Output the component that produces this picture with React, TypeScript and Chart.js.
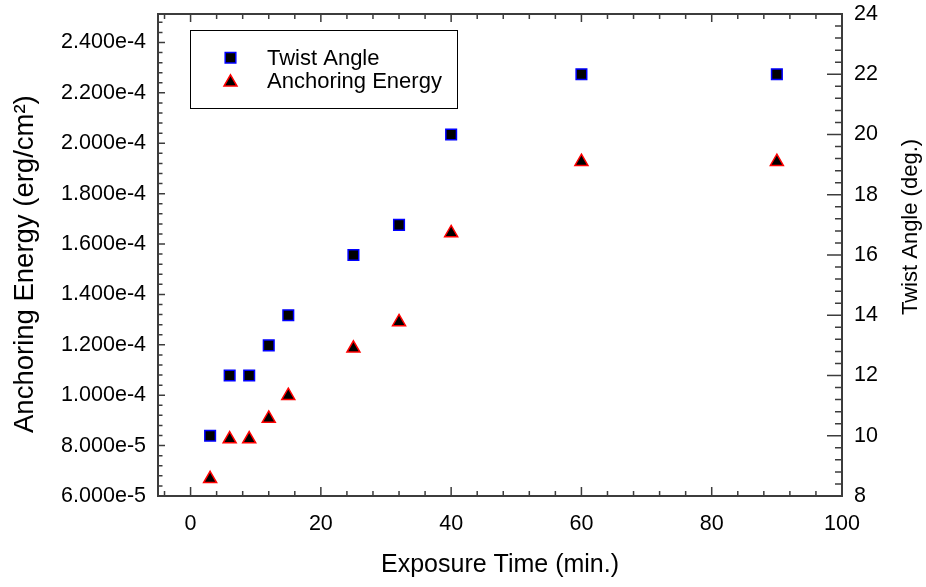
import React, { useEffect, useRef } from 'react';
import { Chart, registerables } from 'chart.js';
import { drawPoint } from 'chart.js/helpers';

Chart.register(...registerables);

// ---- data ----
const exposureTime = [3, 6, 9, 12, 15, 25, 32, 40, 60, 90];
const twistAngle = [10, 12, 12, 13, 14, 16, 17, 20, 22, 22];
const anchoringEnergy = [6.68e-5, 8.26e-5, 8.26e-5, 9.08e-5, 9.98e-5, 1.186e-4, 1.291e-4, 1.644e-4, 1.927e-4, 1.927e-4];

const xTickValues = [0, 20, 40, 60, 80, 100];
const energyTickValues = [6e-5, 8e-5, 1e-4, 1.2e-4, 1.4e-4, 1.6e-4, 1.8e-4, 2e-4, 2.2e-4, 2.4e-4];
const twistTickValues = [8, 10, 12, 14, 16, 18, 20, 22, 24];

const seriesLabels = ['Twist Angle', 'Anchoring Energy'];
const xTitle = 'Exposure Time (min.)';
const energyTitle = 'Anchoring Energy (erg/cm\u00B2)';
const twistTitle = 'Twist Angle (deg.)';

const FONT = '"Liberation Sans", Arial, Helvetica, sans-serif';
const AXIS_COLOR = '#3c3c3c';

function drawInwardTicks(ctx: CanvasRenderingContext2D, chart: any) {
  const area = chart.chartArea;
  const { x, y, y1 } = chart.scales;
  const ticksFor = (scale: any, step: number, every: number, cb: (px: number, major: boolean) => void) => {
    const n0 = Math.ceil(scale.min / step - 1e-6);
    const n1 = Math.floor(scale.max / step + 1e-6);
    for (let n = n0; n <= n1; n++) {
      const px = scale.getPixelForValue(n * step);
      cb(px, ((n % every) + every) % every === 0);
    }
  };
  ctx.save();
  ctx.strokeStyle = AXIS_COLOR;
  ctx.lineWidth = 1.5;
  ctx.beginPath();
  ticksFor(x, 4, 5, (px, major) => {
    ctx.moveTo(px, area.bottom);
    ctx.lineTo(px, area.bottom - (major ? 9 : 5));
    ctx.moveTo(px, area.top);
    ctx.lineTo(px, area.top + (major ? 8 : 5));
  });
  ticksFor(y, 4e-6, 5, (py, major) => {
    ctx.moveTo(area.left, py);
    ctx.lineTo(area.left + (major ? 7 : 4.5), py);
  });
  ticksFor(y1, 0.4, 5, (py, major) => {
    ctx.moveTo(area.right, py);
    ctx.lineTo(area.right - (major ? 15 : 7), py);
  });
  ctx.stroke();
  ctx.lineWidth = 2;
  ctx.strokeRect(area.left, area.top, area.right - area.left, area.bottom - area.top);
  ctx.restore();
}

const framePlugin = {
  id: 'frameTicks',
  beforeDatasetsDraw(chart: any) {
    drawInwardTicks(chart.ctx, chart);
  },
};

const titlesPlugin = {
  id: 'sideTitles',
  afterDraw(chart: any) {
    const ctx = chart.ctx as CanvasRenderingContext2D;
    ctx.save();
    ctx.fillStyle = '#000';
    ctx.textAlign = 'left';
    ctx.textBaseline = 'middle';
    // left title (reads bottom to top)
    ctx.save();
    ctx.font = `27.5px ${FONT}`;
    ctx.translate(25.5, 433);
    ctx.rotate(-Math.PI / 2);
    ctx.fillText(energyTitle, 0, 0);
    ctx.restore();
    // right title (reads bottom to top)
    ctx.save();
    ctx.font = `22px ${FONT}`;
    ctx.translate(910.5, 315);
    ctx.rotate(-Math.PI / 2);
    ctx.fillText(twistTitle, 0, 0);
    ctx.restore();
    ctx.restore();
  },
};

const legendPlugin = {
  id: 'boxLegend',
  afterDraw(chart: any) {
    const ctx = chart.ctx as CanvasRenderingContext2D;
    ctx.save();
    ctx.fillStyle = '#fff';
    ctx.fillRect(190.5, 30.5, 267, 78);
    ctx.strokeStyle = '#000';
    ctx.lineWidth = 1;
    ctx.strokeRect(190.5, 30.5, 267, 78);
    const rows = [
      { markerY: 57.7, textY: 65 },
      { markerY: 82.3, textY: 88.3 },
    ];
    chart.data.datasets.forEach((ds: any, i: number) => {
      ctx.fillStyle = ds.pointBackgroundColor;
      ctx.strokeStyle = ds.pointBorderColor;
      ctx.lineWidth = ds.pointBorderWidth;
      drawPoint(
        ctx,
        { pointStyle: ds.pointStyle, radius: ds.pointRadius, rotation: 0, borderWidth: ds.pointBorderWidth } as any,
        230.5,
        rows[i].markerY
      );
      ctx.fillStyle = '#000';
      ctx.font = `22px ${FONT}`;
      ctx.textAlign = 'left';
      ctx.textBaseline = 'alphabetic';
      ctx.fillText(ds.label, 267, rows[i].textY);
    });
    ctx.restore();
  },
};

const noVerticalPadding = (scale: any) => {
  scale.paddingTop = 0;
  scale.paddingBottom = 0;
};

export default function App() {
  const canvasRef = useRef<HTMLCanvasElement | null>(null);

  useEffect(() => {
    if (!canvasRef.current) return;
    Chart.defaults.font.family = FONT;
    Chart.defaults.color = '#000';

    const chart = new Chart(canvasRef.current, {
      type: 'scatter',
      data: {
        datasets: [
          {
            label: seriesLabels[0],
            data: exposureTime.map((t, i) => ({ x: t, y: twistAngle[i] })),
            yAxisID: 'y1',
            pointStyle: 'rect',
            pointRadius: 7.5,
            pointBackgroundColor: '#000',
            pointBorderColor: '#0000ff',
            pointBorderWidth: 1.5,
            showLine: false,
          } as any,
          {
            label: seriesLabels[1],
            data: exposureTime.map((t, i) => ({ x: t, y: anchoringEnergy[i] })),
            yAxisID: 'y',
            pointStyle: 'triangle',
            pointRadius: 7.5,
            pointBackgroundColor: '#000',
            pointBorderColor: '#ff0000',
            pointBorderWidth: 1.5,
            showLine: false,
          } as any,
        ],
      },
      options: {
        animation: false,
        responsive: false,
        devicePixelRatio: 1,
        layout: { padding: { top: 14, left: 0, right: 0, bottom: 0 } },
        plugins: {
          legend: { display: false },
          tooltip: { enabled: false },
        },
        scales: {
          x: {
            type: 'linear',
            position: 'bottom',
            min: -5,
            max: 100,
            grid: { display: false, drawTicks: false },
            border: { display: false },
            afterBuildTicks: (scale: any) => {
              scale.ticks = xTickValues.map((v) => ({ value: v }));
            },
            afterFit: (scale: any) => {
              scale.height = 91;
              scale.paddingLeft = 0;
              scale.paddingRight = 0;
            },
            ticks: {
              padding: 15,
              font: { size: 21.5 },
              color: '#000',
              maxRotation: 0,
              autoSkip: false,
              callback: (v: any) => String(v),
            },
            title: {
              display: true,
              text: xTitle,
              font: { size: 25, lineHeight: 1 },
              color: '#000',
              padding: { top: 0, bottom: 9 },
            },
          },
          y: {
            type: 'linear',
            position: 'left',
            min: 6e-5,
            max: 2.513e-4,
            grid: { display: false, drawTicks: false },
            border: { display: false },
            afterBuildTicks: (scale: any) => {
              scale.ticks = energyTickValues.map((v) => ({ value: v }));
            },
            afterFit: (scale: any) => {
              scale.width = 158;
              noVerticalPadding(scale);
            },
            ticks: {
              padding: 12,
              font: { size: 21.5 },
              color: '#000',
              autoSkip: false,
              callback: (v: any) => Number(v).toExponential(3),
            },
          },
          y1: {
            type: 'linear',
            position: 'right',
            min: 8,
            max: 24,
            grid: { display: false, drawTicks: false },
            border: { display: false },
            afterBuildTicks: (scale: any) => {
              scale.ticks = twistTickValues.map((v) => ({ value: v }));
            },
            afterFit: (scale: any) => {
              scale.width = 84;
              noVerticalPadding(scale);
            },
            ticks: {
              padding: 12,
              font: { size: 21.5 },
              color: '#000',
              autoSkip: false,
              callback: (v: any) => String(v),
            },
          },
        },
      } as any,
      plugins: [framePlugin, titlesPlugin, legendPlugin],
    });

    return () => {
      chart.destroy();
    };
  }, []);

  return (
    <div style={{ position: 'fixed', left: 0, top: 0, width: 926, height: 587, background: '#fff' }}>
      <canvas ref={canvasRef} width={926} height={587} style={{ display: 'block', width: 926, height: 587 }} />
    </div>
  );
}
